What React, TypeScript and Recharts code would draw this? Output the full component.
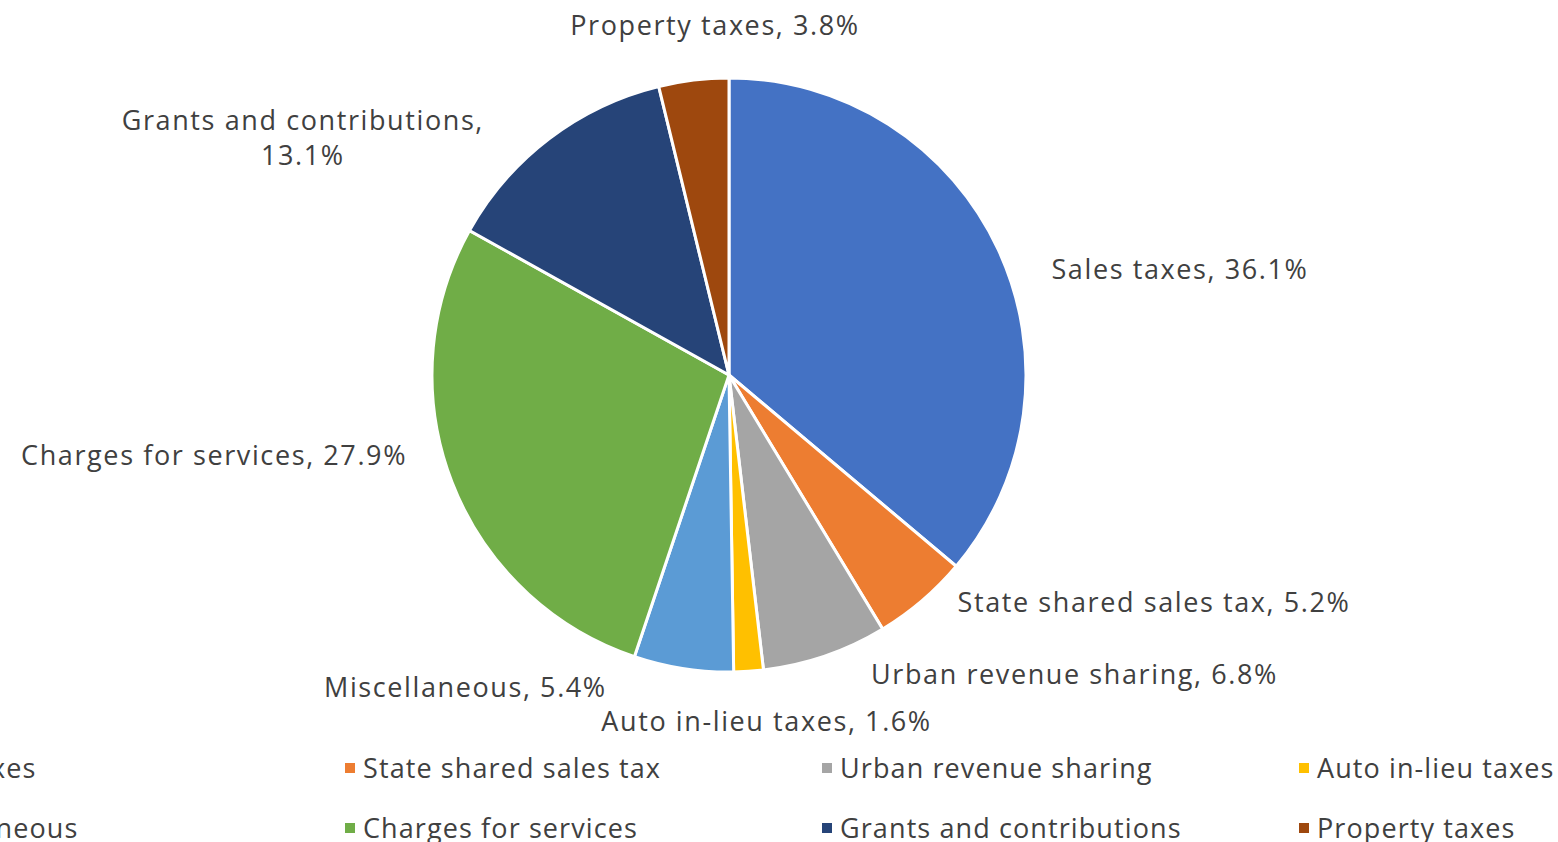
import React from 'react';
import { PieChart, Pie, Cell, Legend } from 'recharts';

const CATEGORIES = [
    'Sales taxes',
    'State shared sales tax',
    'Urban revenue sharing',
    'Auto in-lieu taxes',
    'Miscellaneous',
    'Charges for services',
    'Grants and contributions',
    'Property taxes'
];
const SHARES = [36.1, 5.2, 6.8, 1.6, 5.4, 27.9, 13.1, 3.8];
const COLORS = ['#4472C4', '#ED7D31', '#A5A5A5', '#FFC000', '#5B9BD5', '#70AD47', '#264478', '#9E480E'];

// label nudges (px) to mimic Excel's "best fit" placement
const LABEL_NUDGE: [number, number][] = [
    [26, 31], [16, -22], [36, -11], [16, 19], [-72, -12], [-17, -39], [-228, 23], [25, -26]
];
const WRAPPED = ['Grants and contributions'];

const FONT = "'Open Sans', 'Noto Sans', sans-serif";
const FONT_SIZE = 27;
const SPACING = 1.6;
const TEXT = '#404040';
const RAD = Math.PI / 180;

const data = CATEGORIES.map((name, i) => ({ name, value: SHARES[i] }));

const renderLabel = (props: any) => {
    const { cx, cy, midAngle, outerRadius, index, name, value } = props;
    const r = outerRadius + 30;
    const cos = Math.cos(-midAngle * RAD);
    const x = cx + r * cos + LABEL_NUDGE[index][0];
    const y = cy + r * Math.sin(-midAngle * RAD) + LABEL_NUDGE[index][1];
    const pct = `${value.toFixed(1)}%`;
    if (WRAPPED.includes(name)) {
        return (
            <text x={x} y={y} fill={TEXT} fontFamily={FONT} fontSize={FONT_SIZE} letterSpacing={SPACING} textAnchor="middle">
                <tspan x={x} dy={-8}>{name},</tspan>
                <tspan x={x} dy={35}>{pct}</tspan>
            </text>
        );
    }
    const anchor = cos > 0.15 ? 'start' : cos < -0.15 ? 'end' : 'middle';
    return (
        <text x={x} y={y} fill={TEXT} fontFamily={FONT} fontSize={FONT_SIZE} letterSpacing={SPACING} textAnchor={anchor} dominantBaseline="central">
            {name}, {pct}
        </text>
    );
};

const renderLegend = (props: any) => {
    const items = [...(props.payload || [])].sort(
        (a: any, b: any) => CATEGORIES.indexOf(a.value) - CATEGORIES.indexOf(b.value)
    );
    return (
        <div style={{ position: 'relative', width: 1910, height: 88 }}>
            {items.map((entry: any, i: number) => {
                const col = i % 4;
                const row = Math.floor(i / 4);
                return (
                    <div
                        key={entry.value}
                        style={{
                            position: 'absolute',
                            left: col * 477,
                            top: row * 60,
                            display: 'flex',
                            alignItems: 'center',
                            whiteSpace: 'nowrap',
                            fontFamily: FONT,
                            fontSize: FONT_SIZE,
                            letterSpacing: 1.1,
                            color: TEXT,
                            lineHeight: '28px'
                        }}
                    >
                        <span style={{ width: 10, height: 10, background: entry.color, marginRight: 8, display: 'inline-block' }} />
                        {entry.value}
                    </div>
                );
            })}
        </div>
    );
};

export default function App() {
    return (
        <div style={{ position: 'absolute', left: 0, top: 0, width: 1558, height: 842, overflow: 'hidden', background: '#fff' }}>
            <PieChart width={1558} height={842} margin={{ top: 0, right: 0, bottom: 0, left: 0 }}>
                <Pie
                    data={data}
                    dataKey="value"
                    nameKey="name"
                    cx={729}
                    cy={375}
                    outerRadius={297}
                    startAngle={90}
                    endAngle={-270}
                    stroke="#fff"
                    strokeWidth={3}
                    label={renderLabel}
                    labelLine={false}
                    isAnimationActive={false}
                >
                    {data.map((d, i) => (
                        <Cell key={d.name} fill={COLORS[i]} />
                    ))}
                </Pie>
                <Legend
                    content={renderLegend}
                    wrapperStyle={{ left: -132, top: 754, width: 1910, height: 88 }}
                />
            </PieChart>
        </div>
    );
}
